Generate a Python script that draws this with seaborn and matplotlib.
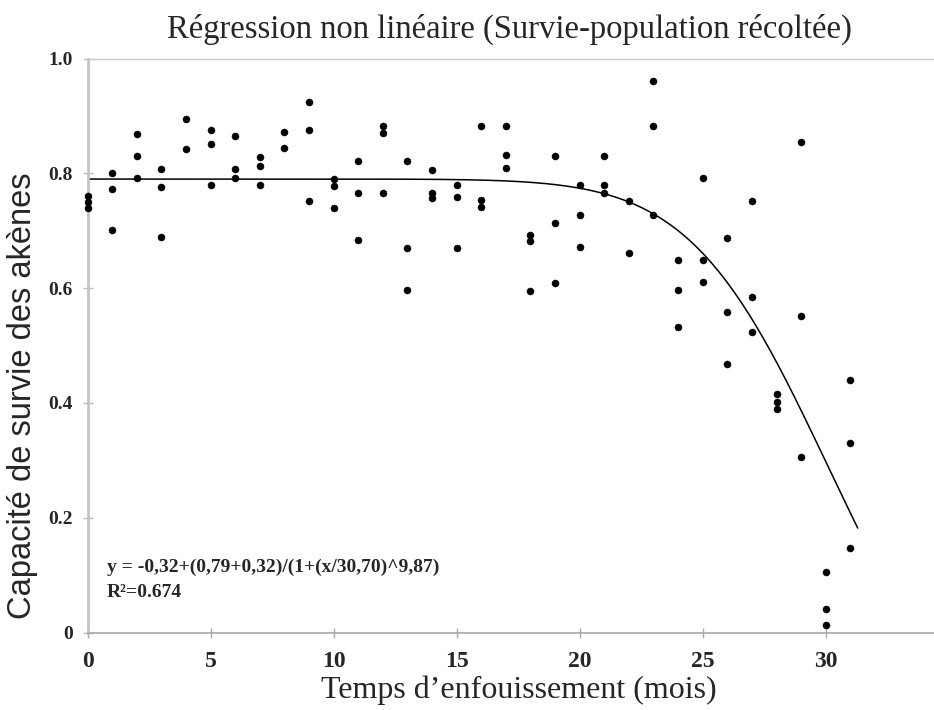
import numpy as np
import pandas as pd
import matplotlib
matplotlib.use("Agg")
import matplotlib.pyplot as plt
import seaborn as sns

# ---- data ----
months = [0, 0, 0, 1, 1, 1, 2, 2, 2, 3, 3, 3, 4, 4, 5, 5, 5, 6, 6, 6, 7, 7, 7,
          8, 8, 9, 9, 9, 10, 10, 10, 11, 11, 11, 12, 12, 12, 13, 13, 13,
          14, 14, 14, 15, 15, 15, 16, 16, 16, 17, 17, 17, 18, 18, 18,
          19, 19, 19, 20, 20, 20, 21, 21, 21, 22, 22, 23, 23, 23,
          24, 24, 24, 25, 25, 25, 26, 26, 26, 27, 27, 27, 28, 28, 28,
          29, 29, 29, 30, 30, 30, 31, 31, 31]
survie = [0.760, 0.750, 0.740, 0.801, 0.773, 0.701, 0.868, 0.830, 0.792,
          0.807, 0.777, 0.689, 0.894, 0.843, 0.875, 0.851, 0.779,
          0.865, 0.807, 0.792, 0.829, 0.813, 0.779, 0.872, 0.844,
          0.924, 0.876, 0.752, 0.790, 0.778, 0.740, 0.821, 0.766, 0.683,
          0.883, 0.870, 0.766, 0.822, 0.670, 0.597, 0.806, 0.766, 0.757,
          0.780, 0.759, 0.670, 0.883, 0.753, 0.741, 0.883, 0.832, 0.809,
          0.693, 0.682, 0.595, 0.830, 0.713, 0.609, 0.779, 0.727, 0.672,
          0.830, 0.779, 0.766, 0.752, 0.662, 0.961, 0.883, 0.727,
          0.649, 0.597, 0.532, 0.792, 0.649, 0.610, 0.688, 0.559, 0.468,
          0.752, 0.584, 0.524, 0.416, 0.402, 0.390, 0.855, 0.551, 0.306,
          0.105, 0.041, 0.013, 0.440, 0.330, 0.147]

# fitted model parameters shown on the chart
p_min, p_max, p_x0, p_slope = -0.32, 0.79, 30.70, 9.87
fit_x_end = 31.3

x_ticks = [0, 5, 10, 15, 20, 25, 30]
y_ticks = [0, 0.2, 0.4, 0.6, 0.8, 1.0]
y_ticklabels = ["0", "0.2", "0.4", "0.6", "0.8", "1.0"]

title = "Régression non linéaire (Survie-population récoltée)"
xlabel = "Temps d\u2019enfouissement (mois)"
ylabel = "Capacité de survie des akènes"
eq_text = "y = -0,32+(0,79+0,32)/(1+(x/30,70)^9,87)"
r2_text = "R²=0.674"

df = pd.DataFrame({"mois": months, "survie": survie})
xf = np.linspace(0, fit_x_end, 300)
fit = pd.DataFrame({"mois": xf,
                    "survie": p_min + (p_max - p_min) / (1 + (xf / p_x0) ** p_slope)})

# ---- plot ----
sns.set_theme(style="white")
plt.rcParams["font.family"] = ["Liberation Serif", "DejaVu Serif"]

fig = plt.figure(figsize=(9.34, 7.10), dpi=100)
ax = fig.add_axes([0.0937, 0.109, 0.9063, 0.8086])

sns.lineplot(data=fit, x="mois", y="survie", ax=ax, color="black", linewidth=1.1)
sns.scatterplot(data=df, x="mois", y="survie", ax=ax, color="black", s=26,
                edgecolor="black", linewidth=0.3, clip_on=False, zorder=3)

ax.set_xlim(0, 34.4)
ax.set_ylim(0, 1.0)
ax.set_xticks(x_ticks)
ax.set_xticklabels([str(t) for t in x_ticks], fontsize=17, fontweight="bold")
ax.set_yticks(y_ticks)
ax.set_yticklabels(y_ticklabels, fontsize=14, fontweight="bold")
ax.tick_params(axis="x", direction="inout", length=7, width=1, color="#aaaaaa",
               pad=10, bottom=True)
ax.tick_params(axis="y", direction="inout", length=7, width=1, color="#bbbbbb",
               pad=7, left=True)

ax.spines["right"].set_visible(False)
ax.spines["left"].set_color("#c4c4c4")
ax.spines["left"].set_linewidth(2.0)
ax.spines["bottom"].set_color("#a8a8a8")
ax.spines["bottom"].set_linewidth(1.2)
ax.spines["top"].set_color("#c8c8c8")
ax.spines["top"].set_linewidth(1.0)

ax.set_xlabel(xlabel, fontsize=23)
ax.xaxis.set_label_coords(0.509, -0.100)
ax.xaxis.label.set_va("center")
ax.set_ylabel(ylabel, fontsize=23.5, family=["Liberation Sans", "DejaVu Sans"])
ax.yaxis.set_label_coords(-0.077, 0.412)
ax.yaxis.label.set_va("center")

ax.text(0.023, 0.1145, eq_text, transform=ax.transAxes, fontsize=14,
        fontweight="bold", va="center", ha="left")
ax.text(0.023, 0.069, r2_text, transform=ax.transAxes, fontsize=14,
        fontweight="bold", va="center", ha="left")

fig.text(0.545, 0.958, title, fontsize=23.5, ha="center", va="center")

fig.savefig("out.png", dpi=100)
